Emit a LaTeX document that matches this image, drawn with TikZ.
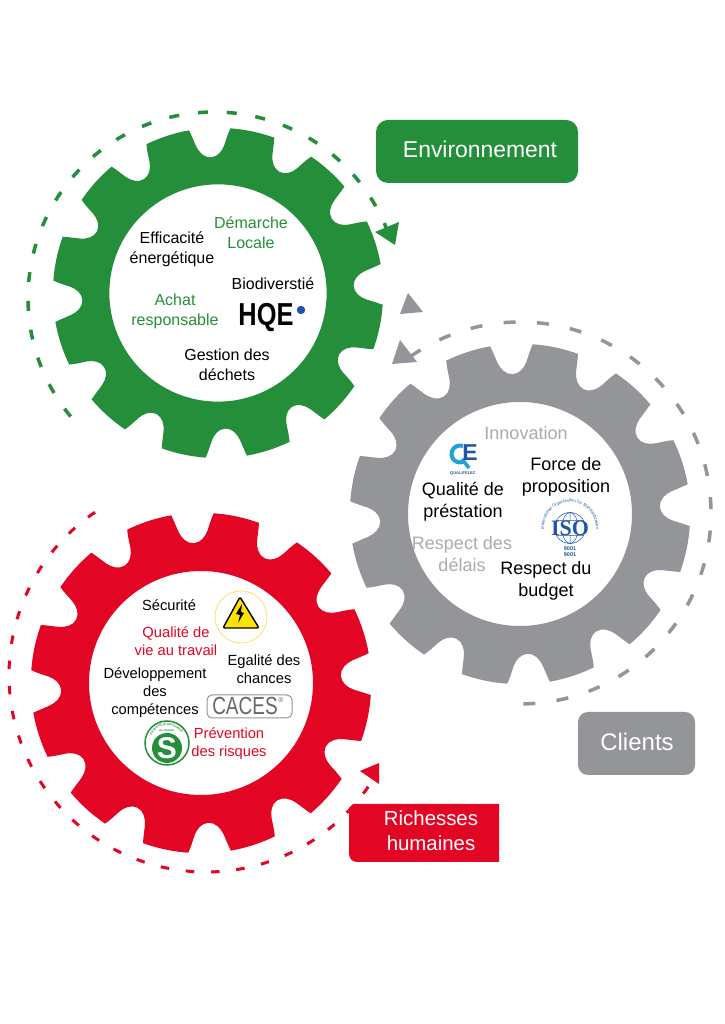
\documentclass[tikz,border=0pt]{standalone}
\usepackage{fontspec}
\setmainfont{Liberation Sans}
\newfontfamily\serifbold[BoldFont={Liberation Serif Bold}]{Liberation Serif}
\usetikzlibrary{decorations.text}
\definecolor{gc}{HTML}{258E3A}
\definecolor{sc}{HTML}{939598}
\definecolor{rc}{HTML}{E30524}
\definecolor{tgrey}{HTML}{ABABAB}
\definecolor{isoblue}{HTML}{1F55A5}
\definecolor{qecyan}{HTML}{22A0DC}
\tikzset{
  x=1pt,y=1pt,
  lab/.style={inner sep=0pt,align=center,text=black},
  labG/.style={lab,font=\fontsize{16}{20}\selectfont},
  labS/.style={lab,font=\fontsize{18}{22}\selectfont},
  labR/.style={lab,font=\fontsize{14.7}{18}\selectfont},
  ringline/.style={line width=#1,line cap=butt},
  titlebox/.style={inner sep=0pt,align=center,text=white}
}
\newcommand{\cogwheel}[4]{%
  \begin{scope}[shift={(#1,#2)},scale=#3]
  \fill[#4,even odd rule] ([rotate=3]169,-21)
  \foreach \a in {3,33,...,333}{
     .. controls ([rotate=\a]162,-18) and ([rotate=\a]157,-16.5) .. ([rotate=\a]152,-14.5)
     .. controls ([rotate=\a]146,-12) and ([rotate=\a]140,-7) .. ([rotate=\a]140,0)
     .. controls ([rotate=\a]140,7) and ([rotate=\a]146,12) .. ([rotate=\a]152,14.5)
     .. controls ([rotate=\a]157,16.5) and ([rotate=\a]162,18) .. ([rotate=\a]169,21)
     arc[start angle=\a+7.14,end angle=\a+22.86,radius=169]
  } -- cycle (0,0) circle (112);
  \end{scope}}
\begin{document}
\begin{tikzpicture}
\useasboundingbox (0,0) rectangle (724,1024);
\fill[white] (0,0) rectangle (724,1024);
% gears
\cogwheel{218}{731}{0.97}{gc}
\cogwheel{520}{510}{1}{sc}
\cogwheel{201}{341}{1}{rc}
% dashed rings and arrow heads
\draw[gc,ringline=3.5,dash pattern=on 10pt off 18.9pt] ([shift={(219.6:186)}]214,726) arc[start angle=219.6,end angle=20.6,radius=186];
\fill[gc] (395,779) -- (375,792) -- (399,802) -- cycle;
\draw[sc,ringline=3.5,dash pattern=on 12pt off 21.4pt] ([shift={(-89:191)}]520,511) arc[start angle=-89,end angle=124.8,radius=191];
\fill[sc] (408,731) -- (423,712) -- (400,710) -- cycle;
\fill[sc] (400,684) -- (417,662) -- (392,660) -- cycle;
\draw[rc,ringline=3,dash pattern=on 8.5pt off 16.8pt] ([shift={(124.3:197)}]206,349) arc[start angle=124.3,end angle=325.7,radius=197];
\fill[rc] (360,253) -- (379,261) -- (379,240) -- cycle;
% title boxes
\fill[gc,rounded corners=12] (376,841) rectangle (578,904);
\node[titlebox,font=\fontsize{22.9}{26}\selectfont] (env) at (480,875) {Environnement};
\fill[sc,rounded corners=10] (578,249) rectangle (695,312);
\node[titlebox,font=\fontsize{24}{28}\selectfont] (cli) at (637,282) {Clients};
\fill[rc] (499,220) -- (353,220) -- (349,216) -- (349,170) arc[start angle=180,end angle=270,radius=8] -- (499,162) -- cycle;
\node[titlebox,font=\fontsize{20.4}{25}\selectfont] (rh) at (431,193) {Richesses\\humaines};
% green gear texts
\node[labG] (eff) at (172,775) {Efficacité\\énergétique};
\node[labG,text=gc] (dem) at (251,791) {Démarche\\Locale};
\node[labG] (bio) at (273,740) {Biodiverstié};
\node[labG,text=gc] (ach) at (175,713) {Achat\\responsable};
\node[labG] (ges) at (227,659) {Gestion des\\déchets};
\node[lab,font=\bfseries\fontsize{25.4}{26}\selectfont] (hqe) at (266,706) {\scalebox{1}[1.25]{HQE}};
\fill[isoblue] (301,714) circle (4.2);
% grey gear texts
\node[labS,text=tgrey] (inn) at (526,591) {Innovation};
\node[labS] (for) at (566,547) {Force de\\proposition};
\node[labS] (qua) at (463,522) {Qualité de\\préstation};
\node[labS,text=tgrey] (del) at (462,470) {Respect des\\délais};
\node[labS] (bud) at (546,443) {Respect du\\budget};
% QE logo
\draw[qecyan,line width=4] ([shift={(70:8.5)}]460,570) arc[start angle=70,end angle=300,radius=8.5];
\draw[qecyan,line width=3.5] (462,565) -- (469,556);
\node[lab,text=isoblue,font=\bfseries\fontsize{23}{24}\selectfont] (qe) at (470,571) {E};
\node[lab,text=isoblue,font=\bfseries\fontsize{4}{5}\selectfont] (qlf) at (463,550) {QUALIFELEC};
% ISO logo
\begin{scope}[shift={(570,496)}]
\draw[isoblue,line width=.5] (0,0) circle (15.5);
\draw[isoblue,line width=.5] (0,0) ellipse (8 and 15.5) (0,-15.5) -- (0,15.5) (-13.4,7.7) -- (13.4,7.7) (-13.4,-7.7) -- (13.4,-7.7);
\fill[white] (-19,-7) rectangle (19,7);
\node[lab,text=isoblue,font=\serifbold\bfseries\fontsize{22}{24}\selectfont] (iso) at (0,0) {ISO};
\path[decorate,decoration={text along path,text align=center,text={|\color{isoblue}\fontsize{4.2}{5}\selectfont|International Organization for Standardization}}] ([shift={(205:26)}]0,0) arc[start angle=205,end angle=-25,radius=26];
\end{scope}
\node[lab,text=isoblue,font=\bfseries\fontsize{5.5}{6}\selectfont] (n9) at (570,472) {9001\\9001};
% red gear texts
\node[labR] (sec) at (169,419) {Sécurité};
\node[labR,text=rc] (qdv) at (176,383) {Qualité de\\vie au travail};
\node[labR] (ega) at (264,355) {Egalité des\\chances};
\node[labR] (dev) at (155,331) {Développement\\des\\compétences};
\node[labR,text=rc] (pre) at (229,280) {Prévention\\des risques};
% warning sign
\draw[yellow!70!orange!60,line width=.8] (241,407) circle (26);
\draw[black,fill=yellow!85!orange,line width=1.4,line join=round,rounded corners=2] (240,427) -- (223,396) -- (259,396) -- cycle;
\fill[black] (242,420) -- (236,410) -- (240,409) -- (238,401) -- (244,411) -- (241,412) -- cycle;
% CACES logo
\draw[sc,rounded corners=5,line width=1] (207,306) rectangle (292,329);
\node[lab,text=sc!70!black,font=\fontsize{19}{20}\selectfont] (cac) at (245,317.5) {\scalebox{1}[1.3]{CACES}};
\node[lab,text=sc!70!black,font=\fontsize{7}{8}\selectfont] (reg) at (281,324) {®};
% SST logo
\begin{scope}[shift={(167,281)}]
\draw[gc,line width=1.5] (0,0) circle (22);
\fill[gc] (0,-5) circle (15);
\node[lab,text=white,font=\bfseries\fontsize{30}{30}\selectfont] (sst) at (0,-5) {S};
\path[decorate,decoration={text along path,text align=center,text={|\color{gc}\bfseries\fontsize{3}{4}\selectfont|SAUVETEUR SECOURISTE}}] ([shift={(150:17.5)}]0,0) arc[start angle=150,end angle=30,radius=17.5];
\node[lab,text=gc,font=\bfseries\fontsize{2.6}{3}\selectfont] (dut) at (0,12.8) {DU TRAVAIL};
\end{scope}
\end{tikzpicture}
\end{document}
